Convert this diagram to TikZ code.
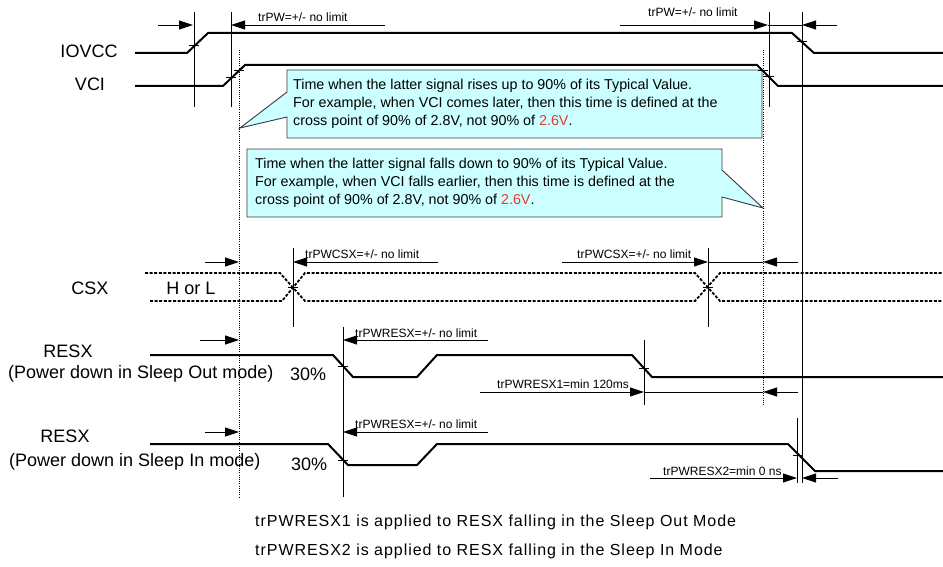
\documentclass[tikz,border=0pt]{standalone}
\usepackage{fontspec}
\setmainfont{Liberation Sans}
\newfontfamily\widefont[LetterSpace=6]{Liberation Sans}
\usetikzlibrary{arrows.meta}
\definecolor{notecyan}{HTML}{CCFFFF}
\definecolor{noteedge}{HTML}{3A3A3A}
\definecolor{notered}{HTML}{E03C31}

\tikzset{
  sig/.style={line width=2pt},
  csxline/.style={line width=1.8pt,dash pattern=on 3pt off 1.6pt},
  vline/.style={line width=1pt},
  dotv/.style={line width=0.9pt,dash pattern=on 1pt off 1.2pt},
  dimline/.style={line width=0.9pt},
  dimarr/.style={line width=0.9pt,-{Triangle[length=14pt,width=9pt]}},
  lbl/.style={font=\fontsize{18}{20}\selectfont,inner sep=0pt},
  dimlbl/.style={font=\fontsize{12}{14}\selectfont,inner sep=0pt,anchor=base west},
  note/.style={fill=notecyan,draw=noteedge,line width=0.9pt},
  notetxt/.style={font=\fontsize{14.3}{18}\selectfont,align=left,inner sep=0pt,anchor=west},
  foot/.style={font=\widefont\fontsize{16}{18}\selectfont,inner sep=0pt,anchor=base west}
}

\begin{document}
\begin{tikzpicture}[x=1pt,y=-1pt]
    \useasboundingbox (0,0) rectangle (943,567);
    %callouts first, lines go on top
    \draw[note] (287,70) -- (762,70) -- (762,138) -- (287,138) -- (287,117) -- (240,128) -- (287,92) -- cycle;
    \draw[note] (247,149) -- (722,149) -- (722,170) -- (763,208) -- (722,197) -- (722,217) -- (247,217) -- cycle;
    \node[notetxt] (rise) at (293,104) {Time when the latter signal rises up to 90\% of its Typical Value.\\
      For example, when VCI comes later, then this time is defined at the\\
      cross point of 90\% of 2.8V, not 90\% of {\color{notered}2.6V}.};
    \node[notetxt] (fall) at (255,183) {Time when the latter signal falls down to 90\% of its Typical Value.\\
      For example, when VCI falls earlier, then this time is defined at the\\
      cross point of 90\% of 2.8V, not 90\% of {\color{notered}2.6V}.};

    %supplies
    \draw[sig] (135,53) -- (187,53) -- (208,33) -- (792,33) -- (814,53) -- (943,53);
    \draw[sig] (135,86) -- (223,86) -- (245,65) -- (757,65) -- (778,86) -- (943,86);
    \node[lbl,anchor=base] (iovcc) at (89,58) {IOVCC};
    \node[lbl,anchor=base] (vci) at (90,91) {VCI};

    %CSX
    \draw[csxline] (145,273) -- (280,273) -- (305,301) -- (695,301) -- (720,273) -- (943,273);
    \draw[csxline] (150,301) -- (282,301) -- (305,273) -- (695,273) -- (720,301) -- (943,301);
    \node[lbl,anchor=base] (csx) at (90,294) {CSX};
    \node[lbl,anchor=base] (hl) at (191,294) {H or L};

    %RESX
    \draw[sig] (150,355) -- (333,355) -- (353,377) -- (417,377) -- (437,355) -- (632,355) -- (652,377) -- (943,377);
    \draw[sig] (150,444) -- (328,444) -- (348,465) -- (417,465) -- (437,444) -- (788,444) -- (815,471) -- (943,471);
    \node[lbl,anchor=base] (resxa) at (68,357) {RESX};
    \node[lbl,anchor=base west] (modea) at (8,378) {(Power down in Sleep Out mode)};
    \node[lbl,anchor=base west] (pcta) at (290,380) {30\%};
    \node[lbl,anchor=base] (resxb) at (65,442) {RESX};
    \node[lbl,anchor=base west] (modeb) at (9,466) {(Power down in Sleep In mode)};
    \node[lbl,anchor=base west] (pctb) at (291,470) {30\%};

    %verticals
    \draw[vline] (194,12) -- (194,107);
    \draw[vline] (231,12) -- (231,107);
    \draw[vline] (769,12) -- (769,107);
    \draw[vline] (802,12) -- (802,483);
    \draw[vline] (293,248) -- (293,327);
    \draw[vline] (708,248) -- (708,327);
    \draw[vline] (343,327) -- (343,497);
    \draw[vline] (644,340) -- (644,405);
    \draw[vline] (797,418) -- (797,483);
    \draw[dotv] (239,50) -- (239,497);
    \draw[dotv] (763,50) -- (763,405);

    %crossing marks
    \foreach \x/\y in {194/46,231/78,239/71,763/71,769/77,802/42,293/287,708/287,343/366,644/368,343/460,798/455}
        \draw[vline] (\x-5,\y) -- (\x+5,\y);

    %timing
    \draw[dimarr] (158,25) -- (193,25);
    \draw[dimarr] (385,25) -- (231,25);
    \draw[dimarr] (620,25) -- (768,25);
    \draw[dimarr] (837,25) -- (802,25);
    \draw[dimline] (768,25) -- (802,25);
    \node[dimlbl] (pwa) at (258,22) {trPW=+/- no limit};
    \node[dimlbl] (pwb) at (648,17) {trPW=+/- no limit};

    \draw[dimarr] (205,262) -- (239,262);
    \draw[dimarr] (438,262) -- (293,262);
    \draw[dimarr] (562,262) -- (708,262);
    \draw[dimarr] (798,262) -- (763,262);
    \draw[dimline] (708,262) -- (763,262);
    \node[dimlbl] (csxa) at (305,258) {trPWCSX=+/- no limit};
    \node[dimlbl] (csxb) at (577,258) {trPWCSX=+/- no limit};

    \draw[dimarr] (200,340) -- (239,340);
    \draw[dimarr] (488,340) -- (343,340);
    \node[dimlbl] (rsta) at (355,337) {trPWRESX=+/- no limit};
    \draw[dimarr] (480,392) -- (644,392);
    \draw[dimarr] (798,392) -- (763,392);
    \draw[dimline] (644,392) -- (763,392);
    \node[dimlbl] (rsone) at (497,388) {trPWRESX1=min 120ms};

    \draw[dimarr] (205,432) -- (239,432);
    \draw[dimarr] (488,432) -- (343,432);
    \node[dimlbl] (rstb) at (355,428) {trPWRESX=+/- no limit};
    \draw[dimarr] (650,478) -- (797,478);
    \draw[dimarr] (838,478) -- (802,478);
    \node[dimlbl] (rstwo) at (663,475) {trPWRESX2=min 0 ns};

    %notes below
    \node[foot] (nota) at (255,526) {trPWRESX1 is applied to RESX falling in the Sleep Out Mode};
    \node[foot] (notb) at (255,555) {trPWRESX2 is applied to RESX falling in the Sleep In Mode};
\end{tikzpicture}
\end{document}
